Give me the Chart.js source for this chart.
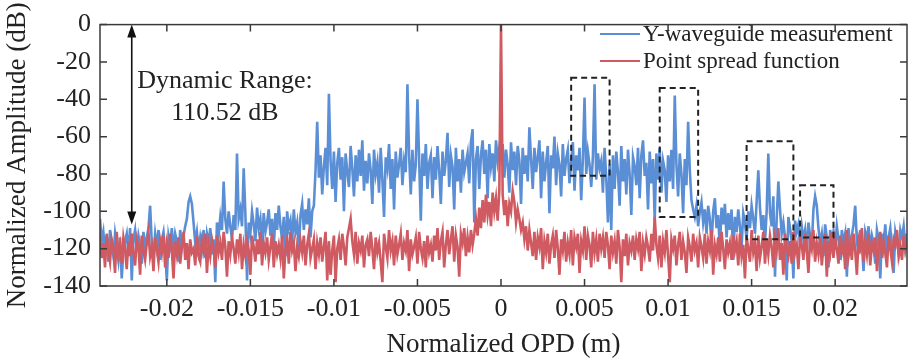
<!DOCTYPE html>
<html>
<head>
<meta charset="utf-8">
<script src="https://cdn.jsdelivr.net/npm/chart.js@4.4.1/dist/chart.umd.min.js"></script>
<style>
  html, body { margin: 0; padding: 0; background: #fff; }
  #chart { display: block; }
</style>
</head>
<body>
<canvas id="chart" width="909" height="361"></canvas>
<script>
// Sampling grid of the OPD axis (m)
const opdStart = -0.024;
const opdStep = 0.0001;

// Y-waveguide measurement (dB), one value per OPD sample
const waveguideDb = [
  -104, -116, -111, -122, -113, -127, -110, -118, -124, -112, -119, -126, -114, -136, -121, -116, -112, -123, -109, -137,
  -115, -110, -121, -113, -118, -128, -111, -120, -114, -109, -97, -117, -124, -112, -119, -110, -126, -115, -111, -122,
  -137, -113, -118, -109, -122, -112, -116, -127, -110, -119, -113, -108, -104, -95, -92, -96, -106, -117, -111, -121,
  -114, -120, -110, -125, -112, -117, -109, -123, -115, -138, -106, -113, -103, -110, -84, -104, -112, -100, -108, -115,
  -102, -110, -69, -104, -99, -108, -77, -101, -137, -106, -112, -100, -107, -116, -98, -109, -104, -118, -101, -111,
  -106, -99, -113, -104, -120, -101, -110, -97, -108, -115, -103, -124, -100, -109, -105, -117, -99, -111, -106, -121,
  -102, -96, -110, -99, -107, -93, -114, -100, -97, -78, -52, -82, -70, -91, -76, -66, -86, -37, -73, -88,
  -68, -95, -74, -66, -83, -71, -100, -69, -79, -87, -65, -77, -92, -70, -84, -67, -81, -62, -89, -73,
  -85, -69, -78, -96, -67, -80, -74, -90, -66, -83, -103, -71, -77, -64, -88, -72, -99, -68, -82, -75,
  -66, -86, -73, -79, -32, -70, -91, -67, -84, -75, -40, -72, -105, -69, -81, -64, -88, -74, -70, -93,
  -71, -83, -65, -78, -96, -68, -81, -73, -58, -87, -70, -76, -99, -66, -84, -72, -90, -67, -79, -74,
  -69, -85, -63, -56, -106, -72, -65, -88, -70, -62, -80, -67, -93, -64, -76, -69, -84, -62, -73, -66,
  -71, -64, -82, -67, -75, -90, -63, -78, -68, -86, -65, -73, -96, -66, -80, -70, -84, -55, -72, -88,
  -66, -79, -71, -62, -93, -68, -84, -74, -65, -101, -70, -77, -60, -86, -69, -75, -92, -64, -81, -72,
  -67, -85, -74, -63, -89, -70, -78, -66, -94, -72, -39, -80, -68, -75, -87, -71, -32, -83, -69, -77,
  -73, -90, -66, -82, -106, -75, -110, -70, -88, -68, -79, -97, -65, -84, -72, -91, -67, -80, -102, -71,
  -76, -86, -66, -93, -70, -62, -81, -74, -99, -68, -85, -72, -105, -69, -83, -66, -90, -73, -78, -95,
  -70, -84, -67, -88, -38, -75, -92, -69, -80, -101, -72, -86, -52, -78, -94, -99, -103, -97, -108, -100,
  -95, -106, -99, -112, -97, -104, -118, -100, -93, -109, -102, -121, -98, -107, -96, -114, -101, -110, -99, -126,
  -103, -111, -99, -108, -119, -101, -106, -115, -100, -109, -97, -104, -112, -95, -78, -98, -110, -102, -117, -100,
  -69, -101, -108, -92, -135, -104, -84, -99, -112, -106, -114, -137, -103, -109, -116, -136, -105, -111, -107, -118,
  -108, -115, -110, -122, -106, -113, -119, -99, -92, -97, -109, -117, -112, -124, -107, -114, -130, -110, -118, -111,
  -120, -108, -115, -126, -110, -117, -112, -135, -109, -121, -113, -107, -97, -116, -123, -110, -118, -132, -111, -115,
  -108, -121, -113, -117, -128, -110, -115, -136, -112, -119, -107, -124, -114, -109, -120, -133, -111, -116, -122, -110,
  -114, -108, -119, -112
];

// Point spread function (dB), same OPD samples
const psfDb = [
  -113, -125, -117, -130, -112, -121, -127, -115, -119, -133, -111, -123, -118, -128, -114, -120, -131, -116, -124, -112,
  -122, -129, -115, -119, -134, -113, -121, -126, -117, -111, -124, -119, -132, -114, -120, -127, -116, -122, -113, -130,
  -118, -125, -112, -121, -136, -116, -123, -114, -128, -119, -111, -126, -117, -131, -115, -122, -120, -129, -113, -124,
  -127, -116, -121, -112, -133, -118, -124, -115, -120, -130, -113, -122, -117, -126, -111, -119, -135, -116, -123, -114,
  -120, -128, -115, -122, -112, -131, -118, -124, -116, -121, -134, -113, -119, -127, -115, -123, -111, -129, -117, -122,
  -114, -126, -119, -112, -130, -116, -123, -118, -125, -113, -136, -120, -115, -128, -111, -121, -117, -132, -119, -124,
  -116, -122, -113, -129, -118, -112, -125, -120, -115, -131, -117, -123, -114, -127, -119, -111, -137, -116, -134, -121,
  -113, -138, -120, -115, -126, -112, -119, -129, -114, -109, -104, -116, -123, -111, -128, -117, -121, -113, -130, -118,
  -115, -124, -111, -120, -131, -114, -122, -117, -127, -138, -112, -119, -125, -110, -121, -116, -129, -113, -123, -118,
  -112, -126, -117, -121, -110, -132, -115, -123, -119, -114, -128, -111, -120, -125, -116, -130, -113, -122, -118, -127,
  -113, -121, -109, -126, -116, -111, -130, -118, -110, -123, -115, -108, -127, -113, -119, -135, -112, -117, -109, -124,
  -114, -122, -110, -118, -112, -104, -113, -98, -109, -94, -106, -91, -102, -95, -108, -90, -100, -93, -105, -89,
  0, -91, -102, -94, -108, -96, -100, -89, -95, -106, -99, -104, -110, -106, -115, -108, -121, -110, -117, -124,
  -111, -126, -114, -119, -109, -131, -116, -122, -112, -128, -118, -113, -125, -110, -120, -134, -115, -121, -111, -127,
  -117, -123, -110, -129, -114, -119, -112, -133, -116, -121, -108, -126, -113, -118, -130, -111, -122, -115, -127, -112,
  -120, -114, -125, -111, -118, -131, -113, -122, -116, -128, -110, -119, -138, -115, -124, -112, -129, -117, -121, -113,
  -126, -115, -120, -111, -132, -117, -123, -114, -119, -127, -112, -121, -103, -118, -125, -113, -130, -116, -122, -110,
  -124, -138, -115, -120, -113, -129, -118, -111, -126, -116, -122, -133, -114, -119, -127, -112, -121, -117, -130, -114,
  -119, -125, -112, -128, -116, -121, -110, -134, -118, -123, -114, -127, -111, -120, -131, -115, -122, -117, -126, -113,
  -121, -116, -129, -112, -124, -118, -136, -114, -120, -127, -110, -122, -117, -132, -113, -125, -119, -111, -128, -115,
  -123, -113, -119, -130, -115, -121, -109, -126, -117, -134, -112, -120, -124, -116, -128, -111, -122, -118, -131, -114,
  -118, -126, -112, -121, -133, -115, -120, -110, -127, -117, -123, -114, -129, -119, -112, -135, -116, -122, -111, -125,
  -115, -120, -128, -113, -122, -117, -131, -110, -124, -118, -126, -112, -121, -134, -115, -119, -109, -127, -116, -123,
  -112, -129, -117, -121, -114, -132, -119, -111, -125, -116, -122, -130, -113, -120, -127, -115, -118, -110, -124, -119,
  -126, -113, -121, -117
];

// Axis ticks
const xTicks = [-0.02, -0.015, -0.01, -0.005, 0, 0.005, 0.01, 0.015, 0.02];
const xTickLabels = ['-0.02', '-0.015', '-0.01', '-0.005', '0', '0.005', '0.01', '0.015', '0.02'];
const yTicks = [-140, -120, -100, -80, -60, -40, -20, 0];
const yTickLabels = ['-140', '-120', '-100', '-80', '-60', '-40', '-20', '0'];

// Dashed boxes around the spurious peaks: [x0, x1, yTop, yBottom]
const peakBoxes = [
  [0.0042, 0.0065, -28.5, -81],
  [0.0095, 0.0118, -34, -103],
  [0.0147, 0.0175, -62.5, -115],
  [0.0179, 0.0199, -86, -114]
];

const serif = "'Liberation Serif', 'Times New Roman', serif";
const blue = '#5b8fd5';
const red = '#cf5a61';
const frameColor = '#3a3a3a';

function toPoints(values) {
  return values.map((v, i) => ({ x: opdStart + i * opdStep, y: v }));
}

// Frame with inward ticks, dashed boxes, arrow, text and legend
const decorations = {
  id: 'decorations',
  afterDatasetsDraw(chart) {
    const { ctx, chartArea: a, scales: { x, y } } = chart;
    ctx.save();

    // dashed boxes
    ctx.strokeStyle = '#222';
    ctx.lineWidth = 2;
    ctx.setLineDash([6, 4]);
    peakBoxes.forEach(b => {
      const x0 = x.getPixelForValue(b[0]), x1 = x.getPixelForValue(b[1]);
      const y0 = y.getPixelForValue(b[2]), y1 = y.getPixelForValue(b[3]);
      ctx.strokeRect(x0, y0, x1 - x0, y1 - y0);
    });
    ctx.setLineDash([]);

    // dynamic range arrow
    const ax = x.getPixelForValue(-0.0221);
    const ay0 = y.getPixelForValue(0);
    const ay1 = y.getPixelForValue(-107);
    ctx.strokeStyle = '#111';
    ctx.fillStyle = '#111';
    ctx.lineWidth = 1.6;
    ctx.beginPath();
    ctx.moveTo(ax, ay0 + 8);
    ctx.lineTo(ax, ay1 - 8);
    ctx.stroke();
    ctx.beginPath();
    ctx.moveTo(ax, ay0);
    ctx.lineTo(ax - 4.5, ay0 + 13);
    ctx.lineTo(ax + 4.5, ay0 + 13);
    ctx.closePath();
    ctx.fill();
    ctx.beginPath();
    ctx.moveTo(ax, ay1);
    ctx.lineTo(ax - 4.5, ay1 - 13);
    ctx.lineTo(ax + 4.5, ay1 - 13);
    ctx.closePath();
    ctx.fill();

    ctx.fillStyle = '#222';
    ctx.font = '26px ' + serif;
    ctx.textAlign = 'center';
    ctx.textBaseline = 'alphabetic';
    ctx.fillText('Dynamic Range:', 225, 88);
    ctx.fillText('110.52 dB', 225, 120);

    // legend
    const lx = 600, ly = [34, 61];
    const items = [['Y-waveguide measurement', blue], ['Point spread function', red]];
    ctx.font = '23px ' + serif;
    ctx.textAlign = 'left';
    ctx.textBaseline = 'middle';
    items.forEach((it, i) => {
      ctx.strokeStyle = it[1];
      ctx.lineWidth = 2;
      ctx.beginPath();
      ctx.moveTo(lx, ly[i]);
      ctx.lineTo(lx + 40, ly[i]);
      ctx.stroke();
      ctx.fillStyle = '#222';
      ctx.fillText(it[0], lx + 43, ly[i] + 1);
    });

    // frame
    ctx.strokeStyle = frameColor;
    ctx.lineWidth = 1.5;
    ctx.strokeRect(a.left, a.top, a.right - a.left, a.bottom - a.top);
    const tl = 7;
    ctx.beginPath();
    xTicks.forEach(v => {
      const px = x.getPixelForValue(v);
      ctx.moveTo(px, a.bottom); ctx.lineTo(px, a.bottom - tl);
      ctx.moveTo(px, a.top); ctx.lineTo(px, a.top + tl);
    });
    yTicks.forEach(v => {
      const py = y.getPixelForValue(v);
      ctx.moveTo(a.left, py); ctx.lineTo(a.left + tl, py);
      ctx.moveTo(a.right, py); ctx.lineTo(a.right - tl, py);
    });
    ctx.stroke();
    ctx.restore();
  }
};

new Chart(document.getElementById('chart').getContext('2d'), {
  type: 'line',
  data: {
    datasets: [{
      label: 'Y-waveguide measurement',
      data: toPoints(waveguideDb),
      borderColor: blue,
      borderWidth: 2.6,
      pointRadius: 0,
      tension: 0,
      order: 2
    }, {
      label: 'Point spread function',
      data: toPoints(psfDb),
      borderColor: red,
      borderWidth: 2.6,
      pointRadius: 0,
      tension: 0,
      order: 1
    }]
  },
  options: {
    responsive: false,
    animation: false,
    devicePixelRatio: 1,
    layout: { padding: { top: 15, right: 2, left: 0, bottom: 0 } },
    plugins: {
      legend: { display: false },
      tooltip: { enabled: false }
    },
    scales: {
      x: {
        type: 'linear',
        min: -0.024,
        max: 0.0243,
        afterFit(scale) { scale.height = 75; },
        afterBuildTicks(scale) { scale.ticks = xTicks.map(v => ({ value: v })); },
        grid: { display: false, drawTicks: false },
        border: { display: false },
        ticks: {
          padding: 8,
          color: '#222',
          maxRotation: 0,
          autoSkip: false,
          font: { family: serif, size: 26 },
          callback: (v) => xTickLabels[xTicks.indexOf(v)]
        },
        title: {
          display: true,
          text: 'Normalized OPD (m)',
          color: '#222',
          font: { family: serif, size: 27 },
          padding: { top: 0, bottom: 0 }
        }
      },
      y: {
        min: -140,
        max: 0,
        afterFit(scale) { scale.width = 100; },
        afterBuildTicks(scale) { scale.ticks = yTicks.map(v => ({ value: v })); },
        grid: { display: false, drawTicks: false },
        border: { display: false },
        ticks: {
          padding: 9,
          color: '#222',
          autoSkip: false,
          font: { family: serif, size: 26 },
          callback: (v) => yTickLabels[yTicks.indexOf(v)]
        },
        title: {
          display: true,
          text: 'Normalized Amplitude (dB)',
          color: '#222',
          font: { family: serif, size: 27 },
          padding: { top: 2, bottom: 0 }
        }
      }
    }
  },
  plugins: [decorations]
});
</script>
</body>
</html>
